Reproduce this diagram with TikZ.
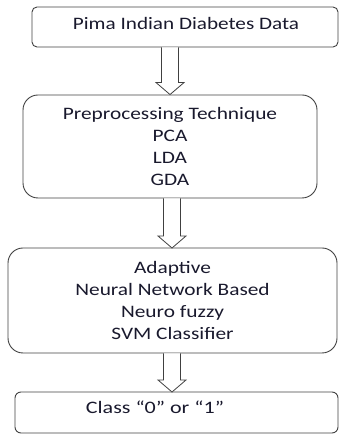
\documentclass[tikz,border=0pt]{standalone}
\usepackage{fontspec}
\setmainfont{Carlito}
\usetikzlibrary{calc}
\definecolor{fText}{RGB}{25,25,45}
\definecolor{fLine}{gray}{0.25}
\tikzset{
    stage/.style={draw=fLine, line width=0.9pt, inner sep=0pt},
    lbl/.style={align=center, text=fText, font=\fontsize{17.5}{22}\selectfont,
        inner sep=0pt, xscale=#1, transform shape},
    lbl/.default=1.22,
    hollow/.style={draw=fLine, line width=0.8pt, fill=white, line join=miter}
}
% hollow block arrow from the bottom of #1 to the top of #2
\newcommand\hollowarrow[2]{%
  \draw[hollow] let \p1=(#1), \p2=(#2) in
    (\x2-8.5,\y1) -- (\x2-8.5,\y2+12) -- (\x2-14,\y2+12) -- (\x2,\y2)
    -- (\x2+14,\y2+12) -- (\x2+8.5,\y2+12) -- (\x2+8.5,\y1);
}

\begin{document}
\begin{tikzpicture}[x=1pt,y=1pt]
\useasboundingbox (0,0) rectangle (339,435);
\node[stage, minimum width=306, minimum height=40, rounded corners=5pt] (pima) at (185,408) {};
\node[lbl=1.21] (pimatxt) at (186,412) {Pima Indian Diabetes Data};
\node[stage, minimum width=294, minimum height=103, rounded corners=15pt] (prep) at (170,288.5) {};
\node[lbl] (preptxt) at (prep.center) {Preprocessing Technique\\PCA\\LDA\\GDA};
\node[stage, minimum width=329, minimum height=105, rounded corners=15pt] (clf) at (172.5,134.5) {};
\node[lbl] (clftxt) at (clf.center) {Adaptive\\Neural Network Based\\Neuro fuzzy\\SVM Classifier};
\node[stage, minimum width=323, minimum height=41, rounded corners=6pt] (cls) at (176.5,22.5) {};
\node[lbl=1.26] (clstxt) at (155,28) {Class “0” or “1”};
\coordinate (a1) at (prep.north);
\coordinate (a2) at (172,187);
\coordinate (a3) at (172,43);
\hollowarrow{pima.south -| a1}{a1}
\hollowarrow{prep.south -| a2}{a2}
\hollowarrow{clf.south -| a3}{a3}
\end{tikzpicture}
\end{document}
